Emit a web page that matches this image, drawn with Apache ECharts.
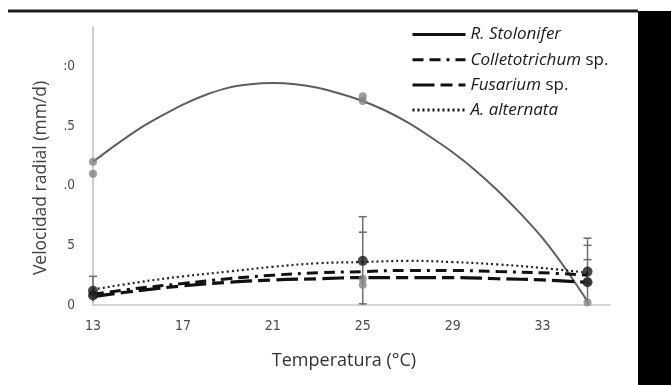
<!DOCTYPE html>
<html>
<head>
<meta charset="utf-8">
<script src="https://cdn.jsdelivr.net/npm/echarts@6/dist/echarts.min.js"></script>
<style>
html,body{margin:0;padding:0;background:#fff;}
#c{width:671px;height:385px;}
</style>
</head>
<body>
<div id="c"></div>
<script>
// ---- data ----
const tempsFine = [13, 14, 15, 16, 17, 18, 19, 20, 21, 22, 23, 24, 25, 26, 27, 28, 29, 30, 31, 32, 33, 34, 35];
const stoloniferFit = [1.20, 1.34, 1.47, 1.58, 1.68, 1.76, 1.82, 1.85, 1.86, 1.85, 1.82, 1.77, 1.71, 1.63, 1.53, 1.41, 1.28, 1.13, 0.96, 0.77, 0.56, 0.31, 0.03];
const temps = [13, 15, 17, 19, 21, 23, 25, 27, 29, 31, 33, 35];
const colletoFit   = [0.09, 0.14, 0.18, 0.22, 0.25, 0.27, 0.28, 0.29, 0.29, 0.28, 0.27, 0.25];
const fusariumFit  = [0.07, 0.12, 0.16, 0.19, 0.21, 0.22, 0.23, 0.23, 0.23, 0.22, 0.21, 0.19];
const alternataFit = [0.13, 0.19, 0.24, 0.28, 0.32, 0.35, 0.36, 0.37, 0.36, 0.34, 0.31, 0.27];

const grayObsX = [13, 13, 25, 25, 35, 25, 25, 13, 35];
const grayObsY = [1.20, 1.10, 1.75, 1.71, 0.02, 0.22, 0.17, 0.09, 0.20];
const blackObsX = [13, 25, 35, 13, 35];
const blackObsY = [0.12, 0.37, 0.28, 0.08, 0.19];

const errX = [13, 25, 35];
const errLow = [0.03, 0.0, 0.01];
const errHigh = [0.24, 0.74, 0.56];
const capX = [13, 25, 25, 25, 35, 35, 35];
const capY = [0.24, 0.74, 0.61, 0.01, 0.56, 0.50, 0.38];

const xTicks = [13, 17, 21, 25, 29, 33];
const yTickLabels = { '0': '0', '0.5': '5', '1': '.0', '1.5': '.5', '2': ':0' };

const seriesNames = ['R. Stolonifer', 'Colletotrichum sp.', 'Fusarium sp.', 'A. alternata'];

// ---- build ----
const zip = (xs, ys) => xs.map((x, i) => [x, ys[i]]);
const chart = echarts.init(document.getElementById('c'), null, { renderer: 'canvas' });

const fitLine = (name, xs, ys, color, width, type, smooth) => ({
  name, type: 'line', data: zip(xs, ys), smooth, symbol: 'none',
  lineStyle: { color, width, type }, itemStyle: { color }, z: 3
});

const FONT = "'Open Sans',sans-serif";
const NARROW = "'Liberation Sans Narrow','DejaVu Sans Condensed',Roboto,sans-serif";

const option = {
  animation: false,
  backgroundColor: '#ffffff',
  grid: { left: 93, right: 61, top: 27, bottom: 80 },
  xAxis: {
    type: 'value', min: 13, max: 36, interval: 4,
    axisLine: { lineStyle: { color: '#c8c8c8', width: 1.5 } },
    axisTick: { show: false }, splitLine: { show: false },
    axisLabel: {
      margin: 14, color: '#4a4a4a', fontSize: 14, fontFamily: NARROW,
      formatter: v => xTicks.indexOf(v) >= 0 ? String(v) : ''
    },
    name: 'Temperatura (°C)', nameLocation: 'middle', nameGap: 47,
    nameTextStyle: { color: '#333333', fontSize: 18, fontFamily: FONT, padding: [0, 15, 0, 0] }
  },
  yAxis: {
    type: 'value', min: 0, max: 2.33, interval: 0.5,
    axisLine: { show: true, lineStyle: { color: '#bdbdbd', width: 1.5 } },
    axisTick: { show: false }, splitLine: { show: false },
    axisLabel: {
      margin: 18, color: '#4a4a4a', fontSize: 13.5, fontFamily: NARROW,
      formatter: v => { const k = String(Math.round(v * 100) / 100); return yTickLabels[k] !== undefined ? yTickLabels[k] : ''; }
    },
    name: 'Velocidad radial (mm/d)', nameLocation: 'middle', nameGap: 43,
    nameTextStyle: { color: '#404040', fontSize: 17.5, fontFamily: FONT, padding: [0, 24, 0, 0] }
  },
  legend: {
    data: seriesNames, orient: 'vertical', left: 406, top: 21,
    itemWidth: 53, itemHeight: 14, itemGap: 8.2,
    lineStyle: { color: '#111', width: 3 },
    itemStyle: { opacity: 0 },
    formatter: n => {
      const m = n.match(/^(.*) (sp\.)$/);
      return m ? '{i|' + m[1] + '} {n|' + m[2] + '}' : '{i|' + n + '}';
    },
    textStyle: {
      color: '#1a1a1a', fontSize: 17, fontFamily: FONT, padding: [0, 0, 0, 0],
      rich: {
        i: { fontStyle: 'italic', fontSize: 17, color: '#1a1a1a', fontFamily: FONT },
        n: { fontStyle: 'normal', fontSize: 17, color: '#1a1a1a', fontFamily: FONT }
      }
    }
  },
  series: [
    fitLine(seriesNames[0], tempsFine, stoloniferFit, '#5e5e5e', 2, 'solid', 0.3),
    fitLine(seriesNames[1], temps, colletoFit, '#111111', 3, [11, 6, 11, 6, 3, 6], 0.4),
    fitLine(seriesNames[2], temps, fusariumFit, '#111111', 3.2, [22, 6, 12, 6], 0.4),
    fitLine(seriesNames[3], temps, alternataFit, '#222222', 2.2, [2, 3], 0.4),
    {
      type: 'custom', z: 2,
      data: errX.map((x, i) => [x, errLow[i], errHigh[i]]),
      renderItem: (params, api) => {
        const a = api.coord([api.value(0), api.value(1)]);
        const b = api.coord([api.value(0), api.value(2)]);
        return { type: 'line', shape: { x1: a[0], y1: a[1], x2: b[0], y2: b[1] },
                 style: { stroke: '#6e6e6e', lineWidth: 1.5 } };
      }
    },
    {
      type: 'custom', z: 2,
      data: zip(capX, capY),
      renderItem: (params, api) => {
        const p = api.coord([api.value(0), api.value(1)]);
        return { type: 'line', shape: { x1: p[0] - 4, y1: p[1], x2: p[0] + 4, y2: p[1] },
                 style: { stroke: '#6e6e6e', lineWidth: 1.5 } };
      }
    },
    {
      type: 'scatter', data: zip(grayObsX, grayObsY), symbolSize: 8, z: 4,
      itemStyle: { color: '#858585' }
    },
    {
      type: 'scatter', data: zip(blackObsX, blackObsY), symbolSize: 10, z: 5,
      itemStyle: { color: '#1a1a1a' }
    }
  ],
  graphic: [
    { type: 'rect', shape: { x: 8, y: 9.5, width: 630, height: 3 }, style: { fill: '#1c1c1c' }, z: 100 },
    { type: 'rect', shape: { x: 638, y: 11, width: 33, height: 374 }, style: { fill: '#000' }, z: 100 }
  ]
};
chart.setOption(option);
</script>
</body>
</html>
